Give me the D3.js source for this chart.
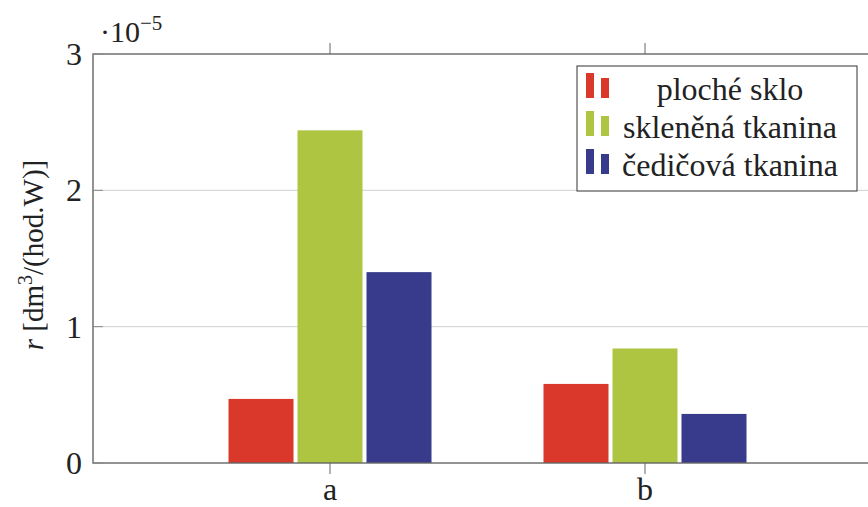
<!DOCTYPE html>
<html><head><meta charset="utf-8">
<script src="https://cdn.jsdelivr.net/npm/d3@7"></script>
<style>body{margin:0;background:#fff}svg{display:block}</style>
</head><body><svg id="c" width="868" height="507" font-family="'Liberation Serif', 'Times New Roman', serif" fill="#222"></svg>
<script>
const categories = ["a", "b"];
const seriesNames = ["ploché sklo", "skleněná tkanina", "čedičová tkanina"];
const seriesColors = ["#d9382a", "#adc541", "#383a8b"];
const ploche = [0.47, 0.58];
const sklenena = [2.44, 0.84];
const cedicova = [1.40, 0.36];
const yTicks = [0, 1, 2, 3];
const series = [ploche, sklenena, cedicova];

const svg = d3.select("#c");
const L = 93, R = 881, T = 54, B = 463;
const y = d3.scaleLinear().domain([0, 3]).range([B, T]);
const x = d3.scalePoint().domain(categories).range([330, 645]);
const barW = 65, gap = 4;

svg.append("g").selectAll("line").data(yTicks.filter(d => d > 0 && d < 3)).join("line")
  .attr("x1", L).attr("x2", R).attr("y1", d => y(d)).attr("y2", d => y(d))
  .attr("stroke", "#d0d0d0").attr("stroke-width", 1);

series.forEach((vals, si) => {
  svg.append("g").selectAll("rect").data(vals).join("rect")
    .attr("x", (d, i) => x(categories[i]) + (si - 1) * (barW + gap) - barW / 2)
    .attr("width", barW)
    .attr("y", d => y(d))
    .attr("height", d => B - y(d))
    .attr("fill", seriesColors[si]);
});

svg.append("rect").attr("x", L).attr("y", T).attr("width", R - L).attr("height", B - T)
  .attr("fill", "none").attr("stroke", "#666").attr("stroke-width", 1.4);

const ya = svg.append("g");
ya.selectAll("line").data(yTicks).join("line")
  .attr("x1", L).attr("x2", L + 10).attr("y1", d => y(d)).attr("y2", d => y(d))
  .attr("stroke", "#888").attr("stroke-width", 1);
ya.selectAll("text").data(yTicks).join("text")
  .attr("x", L - 11).attr("y", d => y(d) + 11).attr("text-anchor", "end")
  .attr("font-size", 32).text(d => d);

const xa = svg.append("g");
categories.forEach(c => {
  xa.append("line").attr("x1", x(c)).attr("x2", x(c)).attr("y1", B).attr("y2", B + 11).attr("stroke", "#666");
  xa.append("line").attr("x1", x(c)).attr("x2", x(c)).attr("y1", T).attr("y2", T - 11).attr("stroke", "#666");
  xa.append("text").attr("x", x(c)).attr("y", 500)
    .attr("text-anchor", "middle").attr("font-size", 32).text(c);
});

const m = svg.append("text").attr("x", 100).attr("y", 42).attr("font-size", 30);
m.append("tspan").text("·10");
m.append("tspan").attr("dy", -12).attr("font-size", 21).text("−5");

const yl = svg.append("text").attr("transform", "translate(43,255) rotate(-90)")
  .attr("text-anchor", "middle").attr("font-size", 29);
yl.append("tspan").attr("font-style", "italic").text("r");
yl.append("tspan").text(" [dm");
yl.append("tspan").attr("dy", -11).attr("font-size", 20).text("3");
yl.append("tspan").attr("dy", 11).text("/(hod.W)]");

const lg = svg.append("g");
lg.append("rect").attr("x", 577).attr("y", 66).attr("width", 280).attr("height", 125)
  .attr("fill", "#fff").attr("stroke", "#333").attr("stroke-width", 1);
seriesNames.forEach((n, i) => {
  const cy = 73 + i * 38;
  lg.append("rect").attr("x", 586).attr("y", cy).attr("width", 8).attr("height", 25).attr("fill", seriesColors[i]);
  lg.append("rect").attr("x", 601).attr("y", cy + 5).attr("width", 8).attr("height", 20).attr("fill", seriesColors[i]);
  lg.append("text").attr("x", 730).attr("y", cy + 27).attr("text-anchor", "middle")
    .attr("font-size", 32).text(n);
});
</script></body></html>
